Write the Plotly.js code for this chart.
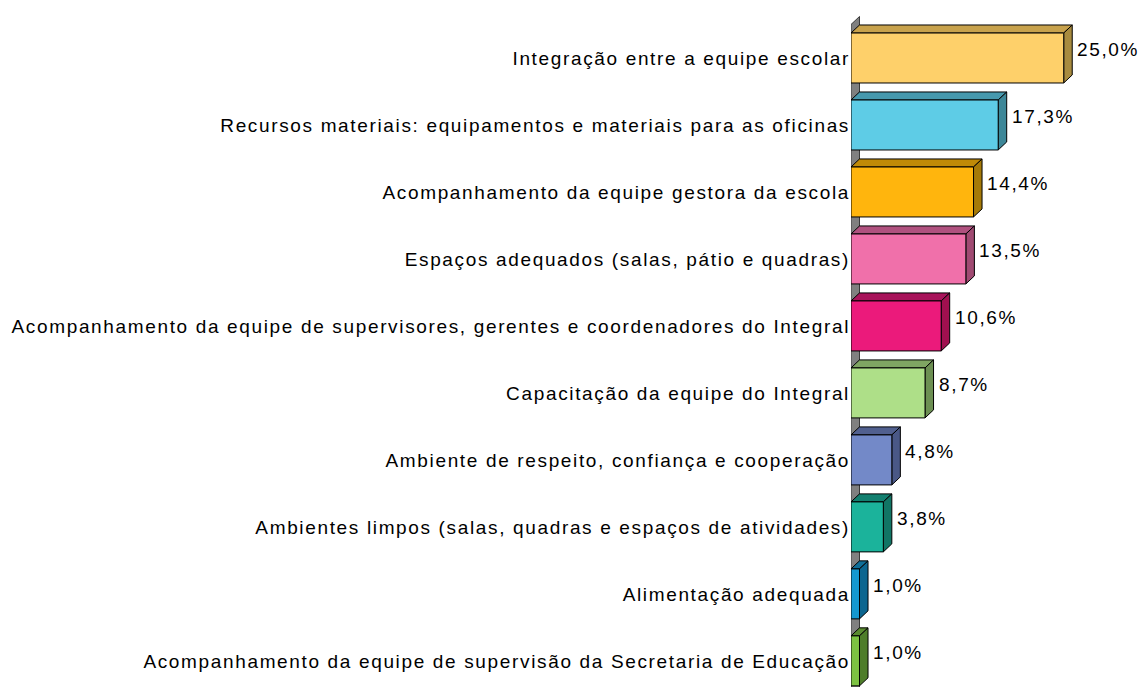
<!DOCTYPE html>
<html>
<head>
<meta charset="utf-8">
<script src="https://cdn.plot.ly/plotly-3.0.1.min.js"></script>
<style>
html,body{margin:0;padding:0;background:#fff;}
#chart{width:1142px;height:687px;}
#chart svg text{letter-spacing:1.65px !important;}
</style>
</head>
<body>
<div id="chart"></div>
<script>
const categories = [
  'Integração entre a equipe escolar',
  'Recursos materiais: equipamentos e materiais para as oficinas',
  'Acompanhamento da equipe gestora da escola',
  'Espaços adequados (salas, pátio e quadras)',
  'Acompanhamento da equipe de supervisores, gerentes e coordenadores do Integral',
  'Capacitação da equipe do Integral',
  'Ambiente de respeito, confiança e cooperação',
  'Ambientes limpos (salas, quadras e espaços de atividades)',
  'Alimentação adequada',
  'Acompanhamento da equipe de supervisão da Secretaria de Educação'
];
const values = [25.0, 17.3, 14.4, 13.5, 10.6, 8.7, 4.8, 3.8, 1.0, 1.0];
const valueLabels = ['25,0%', '17,3%', '14,4%', '13,5%', '10,6%', '8,7%', '4,8%', '3,8%', '1,0%', '1,0%'];
const frontColors = ['#FED06A', '#5ECCE6', '#FFB50D', '#F070AA', '#EB1A7B', '#AEDF88', '#7389C8', '#1BB39B', '#1598D0', '#7DC242'];
const topColors   = ['#C8A24C', '#4799AE', '#C08A07', '#B0517F', '#A8135A', '#7FA562', '#51608F', '#138070', '#0F6E98', '#5A8B30'];
const sideColors  = ['#A88B3F', '#3D8798', '#A67A08', '#A04A72', '#A0104F', '#6C8F52', '#4A5886', '#117565', '#0C6690', '#4E7D2A'];

const half = 0.373, dx = 1.0, dy = 0.12;
const idx = categories.map((c, i) => i);
const traces = [];
const poly = (x, y, fill, lineColor) => ({
  type: 'scatter', mode: 'lines', x: x, y: y, fill: 'toself', fillcolor: fill,
  line: {color: lineColor || '#000', width: 1}, hoverinfo: 'skip', showlegend: false
});
// back wall
traces.push(poly([0, dx, dx, 0, 0], [-0.5, -0.5 - dy, 10, 10, -0.5], '#808080', '#3a3a3a'));
values.forEach((v, i) => {
  const t = i - half, b = i + half;
  traces.push(poly([0, v, v + dx, dx, 0], [t, t, t - dy, t - dy, t], topColors[i]));
  traces.push(poly([v, v + dx, v + dx, v, v], [t, t - dy, b - dy, b, t], sideColors[i]));
  traces.push(poly([0, v, v, 0, 0], [t, t, b, b, t], frontColors[i]));
});
const annotations = values.map((v, i) => ({
  x: v + dx, y: i - dy, xref: 'x', yref: 'y', text: valueLabels[i], showarrow: false,
  xanchor: 'left', yanchor: 'middle', align: 'left', xshift: 3,
  font: {family: 'Liberation Sans, Arial, sans-serif', size: 19, color: '#000'}
}));
const layout = {
  width: 1142, height: 687,
  margin: {l: 851, r: 0, t: 0, b: 0},
  paper_bgcolor: '#fff', plot_bgcolor: '#fff',
  font: {family: 'Liberation Sans, Arial, sans-serif', size: 19, color: '#000'},
  xaxis: {range: [0, 34.2], visible: false, fixedrange: true},
  yaxis: {range: [9.39, -0.866], tickvals: idx, ticktext: categories, showgrid: false,
          zeroline: false, showline: false, ticks: '', automargin: false, ticklabelstandoff: 0,
          tickfont: {family: 'Liberation Sans, Arial, sans-serif', size: 19, color: '#000'}},
  showlegend: false,
  annotations: annotations
};
Plotly.newPlot('chart', traces, layout, {staticPlot: true, displayModeBar: false});
</script>
</body>
</html>
